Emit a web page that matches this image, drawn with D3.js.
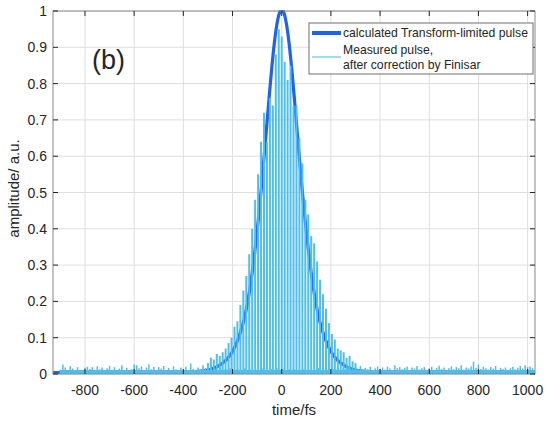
<!doctype html>
<html lang="en">
<head>
<meta charset="UTF-8">
<title>Pulse</title>
<style>
  body { margin: 0; background: #fff; }
  text { font-family: "Liberation Sans", Arial, sans-serif; fill: #262626; }
</style>
</head>
<body>
<script src="https://cdn.jsdelivr.net/npm/d3@7"></script>
<script>

    // calculated transform-limited pulse (time in fs, amplitude)
    const calcTimes = [-930, -400, -340, -300, -280, -260, -240, -220, -200, -180, -160, -150, -140, -130,
        -120, -110, -100, -90, -80, -70, -60, -50, -40, -30, -20, -10, 0, 10, 20, 30, 40, 50, 60, 70, 80,
        90, 100, 110, 120, 130, 140, 150, 160, 180, 200, 220, 240, 260, 280, 300, 340, 400, 1030]
    const calcValues = [0, 0.001, 0.003, 0.007, 0.011, 0.017, 0.026, 0.039, 0.058, 0.087, 0.128, 0.155, 0.188, 0.228,
        0.275, 0.329, 0.389, 0.455, 0.528, 0.607, 0.687, 0.767, 0.842, 0.907, 0.957, 0.989, 1, 0.989, 0.957, 0.907, 0.842,
        0.767, 0.687, 0.607, 0.528, 0.455, 0.389, 0.329, 0.275, 0.228, 0.188, 0.155, 0.128, 0.087, 0.058, 0.039, 0.026,
        0.017, 0.011, 0.007, 0.003, 0.001, 0]

    // measured pulse: main spikes every 12 fs from -300 to 300
    const pulseTimes = d3.range(-300, 301, 12)
    const pulsePeaks = [0.03, 0.045, 0.04, 0.055, 0.05, 0.06, 0.07, 0.085, 0.10, 0.13, 0.145, 0.19, 0.23, 0.27,
        0.33, 0.40, 0.48, 0.55, 0.64, 0.72, 0.64, 0.76, 0.74, 0.88, 0.95, 0.93, 0.86, 0.81, 0.85, 0.74, 0.74,
        0.65, 0.58, 0.48, 0.44, 0.38, 0.36, 0.31, 0.26, 0.22, 0.18, 0.14, 0.11, 0.095, 0.07, 0.065, 0.06,
        0.045, 0.05, 0.035, 0.03]

    // measured pulse: background noise every 10 fs from -900 to 1020
    const noiseTimes = d3.range(-900, 1021, 10)
    const noiseValues = [
        0.012, 0.026, 0.018, 0.009, 0.022, 0.015, 0.006, 0.019, 0.011, 0.008,
        0.017, 0.020, 0.014, 0.019, 0.010, 0.021, 0.013, 0.018, 0.009, 0.016,
        0.022, 0.012, 0.019, 0.008, 0.015, 0.024, 0.011, 0.017, 0.007, 0.013,
        0.026, 0.024, 0.016, 0.021, 0.010, 0.018, 0.027, 0.013, 0.020, 0.009,
        0.019, 0.015, 0.022, 0.011, 0.017, 0.008, 0.021, 0.013, 0.006, 0.018,
        0.012, 0.020, 0.009, 0.029, 0.014, 0.007, 0.018, 0.011, 0.024, 0.016,
        0.013, 0.017, 0.009, 0.015, 0.011, 0.019, 0.008, 0.014, 0.012, 0.016,
        0.011, 0.009, 0.014, 0.012, 0.008, 0.015, 0.010, 0.013, 0.009, 0.011,
        0.012, 0.008, 0.015, 0.010, 0.013, 0.009, 0.014, 0.011, 0.016, 0.010,
        0.012, 0.015, 0.009, 0.013, 0.011, 0.014, 0.008, 0.012, 0.010, 0.013,
        0.011, 0.009, 0.014, 0.010, 0.012, 0.016, 0.009, 0.013, 0.011, 0.015,
        0.010, 0.014, 0.012, 0.018, 0.011, 0.016, 0.013, 0.020, 0.015, 0.012,
        0.019, 0.014, 0.022, 0.011, 0.017, 0.013, 0.020, 0.009, 0.016, 0.021,
        0.014, 0.018, 0.012, 0.020, 0.015, 0.011, 0.024, 0.016, 0.019, 0.013,
        0.017, 0.021, 0.010, 0.018, 0.015, 0.022, 0.013, 0.016, 0.019, 0.011,
        0.015, 0.020, 0.012, 0.017, 0.023, 0.014, 0.018, 0.011, 0.016, 0.021,
        0.013, 0.019, 0.016, 0.024, 0.012, 0.018, 0.015, 0.021, 0.034, 0.017,
        0.026, 0.014, 0.020, 0.016, 0.012, 0.019, 0.015, 0.022, 0.010, 0.017,
        0.014, 0.018, 0.011, 0.016, 0.020, 0.013, 0.017, 0.022, 0.015, 0.024,
        0.019, 0.021, 0.016
    ]

    const xTicks = [-800, -600, -400, -200, 0, 200, 400, 600, 800, 1000]
    const yTicks = [0, 0.1, 0.2, 0.3, 0.4, 0.5, 0.6, 0.7, 0.8, 0.9, 1]
    const legendLabels = ['calculated Transform-limited pulse', ['Measured pulse,', 'after correction by Finisar']]

    const darkBlue = '#1f62ee'
    const lightBlue = '#4dbeee'

    const W = 547, H = 423
    const margin = {top: 11, right: 12, bottom: 49, left: 53}
    const width = W - margin.left - margin.right
    const height = H - margin.top - margin.bottom

    const root = d3.select('body').append('svg')
        .attr('width', W)
        .attr('height', H)

    root.append('rect').attr('width', W).attr('height', H).attr('fill', '#fff')

    const svg = root.append('g')
        .attr('transform', `translate(${margin.left}, ${margin.top})`)

    const x = d3.scaleLinear().domain([-930, 1030]).range([0, width])
    const y = d3.scaleLinear().domain([0, 1]).range([height, 0])

    // grid
    svg.append('g').selectAll('line').data(xTicks).join('line')
        .attr('x1', d => x(d)).attr('x2', d => x(d))
        .attr('y1', 0).attr('y2', height)
        .attr('stroke', '#dedede')
    svg.append('g').selectAll('line').data(yTicks).join('line')
        .attr('x1', 0).attr('x2', width)
        .attr('y1', d => y(d)).attr('y2', d => y(d))
        .attr('stroke', '#dedede')

    svg.append('clipPath').attr('id', 'plotclip')
        .append('rect').attr('width', width).attr('height', height + 2).attr('y', -1)

    const plot = svg.append('g').attr('clip-path', 'url(#plotclip)')

    // calculated pulse
    const calcLine = d3.line()
        .x((d, i) => x(calcTimes[i]))
        .y(d => y(d) - 1.5)
        .curve(d3.curveMonotoneX)

    plot.append('path')
        .datum(calcValues)
        .attr('d', calcLine)
        .attr('fill', 'none')
        .attr('stroke', darkBlue)
        .attr('stroke-width', 3.2)

    // measured pulse: baseline band, noise spikes and the main spikes
    plot.append('line')
        .attr('x1', x(noiseTimes[0])).attr('x2', x(noiseTimes[noiseTimes.length - 1]) + 3)
        .attr('y1', y(0) - 2).attr('y2', y(0) - 2)
        .attr('stroke', lightBlue)
        .attr('stroke-width', 4)

    plot.append('g').selectAll('line').data(noiseValues).join('line')
        .attr('x1', (d, i) => x(noiseTimes[i])).attr('x2', (d, i) => x(noiseTimes[i]))
        .attr('y1', y(0)).attr('y2', d => y(d))
        .attr('stroke', lightBlue)
        .attr('stroke-width', 1.5)

    plot.append('g').selectAll('line').data(pulsePeaks).join('line')
        .attr('x1', (d, i) => x(pulseTimes[i])).attr('x2', (d, i) => x(pulseTimes[i]))
        .attr('y1', y(0)).attr('y2', d => y(d))
        .attr('stroke', lightBlue)
        .attr('stroke-width', 2)

    // box and ticks
    svg.append('rect')
        .attr('width', width).attr('height', height)
        .attr('fill', 'none').attr('stroke', '#8a8a8a')

    const tickLen = 5
    const tickGroup = svg.append('g').attr('stroke', '#262626')
    xTicks.forEach(t => {
        tickGroup.append('line').attr('x1', x(t)).attr('x2', x(t)).attr('y1', 0).attr('y2', tickLen)
        tickGroup.append('line').attr('x1', x(t)).attr('x2', x(t)).attr('y1', height).attr('y2', height - tickLen)
    })
    yTicks.forEach(t => {
        tickGroup.append('line').attr('x1', 0).attr('x2', tickLen).attr('y1', y(t)).attr('y2', y(t))
        tickGroup.append('line').attr('x1', width).attr('x2', width - tickLen).attr('y1', y(t)).attr('y2', y(t))
    })

    // tick labels
    svg.append('g').selectAll('text').data(xTicks).join('text')
        .attr('x', d => x(d))
        .attr('y', height + 21)
        .attr('text-anchor', 'middle')
        .attr('font-size', 14)
        .text(d => d)

    svg.append('g').selectAll('text').data(yTicks).join('text')
        .attr('x', -6)
        .attr('y', d => y(d) + 5)
        .attr('text-anchor', 'end')
        .attr('font-size', 14)
        .text(d => d)

    // axis labels
    svg.append('text')
        .attr('x', width / 2)
        .attr('y', height + 41)
        .attr('text-anchor', 'middle')
        .attr('font-size', 15)
        .text('time/fs')

    svg.append('text')
        .attr('transform', `translate(${-34}, ${height / 2 - 4}) rotate(-90)`)
        .attr('text-anchor', 'middle')
        .attr('font-size', 15)
        .text('amplitude/ a.u.')

    // panel tag
    svg.append('text')
        .attr('x', 39)
        .attr('y', 58)
        .attr('font-size', 27)
        .text('(b)')

    // legend
    const legend = svg.append('g').attr('transform', `translate(${256}, ${12})`)
    legend.append('rect')
        .attr('width', 224).attr('height', 51)
        .attr('fill', '#fff').attr('stroke', '#6e6e6e')

    legend.append('line')
        .attr('x1', 3).attr('x2', 32).attr('y1', 10).attr('y2', 10)
        .attr('stroke', darkBlue).attr('stroke-width', 4)
    legend.append('text')
        .attr('x', 34).attr('y', 14)
        .attr('font-size', 12.2)
        .text(legendLabels[0])

    legend.append('line')
        .attr('x1', 3).attr('x2', 32).attr('y1', 34).attr('y2', 34)
        .attr('stroke', '#7fd0f2').attr('stroke-width', 1.5)
    legend.append('text')
        .attr('x', 34).attr('y', 31)
        .attr('font-size', 12.2)
        .text(legendLabels[1][0])
    legend.append('text')
        .attr('x', 34).attr('y', 46)
        .attr('font-size', 12.2)
        .text(legendLabels[1][1])

</script>
</body>
</html>
